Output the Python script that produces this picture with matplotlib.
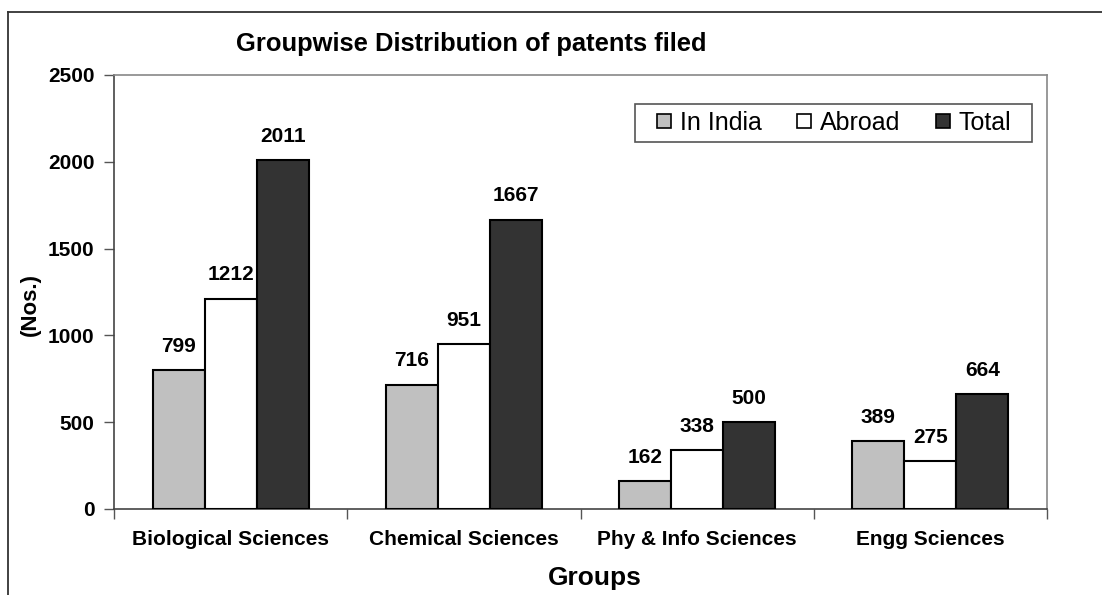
import numpy as np
import matplotlib.pyplot as plt
from matplotlib.lines import Line2D
from matplotlib.patches import Rectangle

# ---- data ----
groups = ["Biological Sciences", "Chemical Sciences", "Phy & Info Sciences", "Engg Sciences"]
in_india = [799, 716, 162, 389]
abroad = [1212, 951, 338, 275]
total = [2011, 1667, 500, 664]
series_names = ["In India", "Abroad", "Total"]
yticks = [0, 500, 1000, 1500, 2000, 2500]

plt.rcParams['font.family'] = ['Liberation Sans', 'DejaVu Sans']

W, H = 1102, 595
fig = plt.figure(figsize=(W / 100, H / 100), dpi=100)
ax = fig.add_axes([114 / W, 1 - 509 / H, (1047 - 114) / W, (509 - 75) / H])

x = np.arange(len(groups))
bw = 0.223
colors = ["#c0c0c0", "#ffffff", "#333333"]
for i, (vals, c) in enumerate(zip([in_india, abroad, total], colors)):
    xs = x + (i - 1) * bw
    ax.bar(xs, vals, bw, color=c, edgecolor="black", linewidth=1.5, zorder=3)
    for xi, v in zip(xs, vals):
        ax.text(xi, v + 105, str(v), ha="center", va="baseline",
                fontsize=15, fontweight="bold")

ax.set_xlim(-0.5, len(groups) - 0.5)
ax.set_ylim(0, 2500)
ax.set_yticks(yticks)
ax.set_yticklabels([str(t) for t in yticks], fontsize=15, fontweight="bold")
ax.tick_params(axis="y", length=7, width=1, color="#555555", pad=7)

ax.set_xticks(x)
ax.set_xticklabels(groups, fontsize=15, fontweight="bold")
ax.tick_params(axis="x", length=0, pad=15)
ax.set_xticks(np.arange(len(groups) + 1) - 0.5, minor=True)
ax.tick_params(axis="x", which="minor", length=7, width=1, color="#555555")

for s in ["left", "bottom"]:
    ax.spines[s].set_color("#444444")
    ax.spines[s].set_linewidth(1.2)
for s in ["top", "right"]:
    ax.spines[s].set_color("#888888")
    ax.spines[s].set_linewidth(1.2)

# axis titles and chart title
fig.text(595 / W, 1 - 585 / H, "Groups", ha="center", va="baseline",
         fontsize=19, fontweight="bold")
fig.text(30 / W, 1 - 305 / H, "(Nos.)", ha="center", va="center", rotation=90,
         fontsize=16, fontweight="bold")
fig.text(471 / W, 1 - 51 / H, "Groupwise Distribution of patents filed",
         ha="center", va="baseline", fontsize=18.4, fontweight="bold")

# legend: entries without frame, box drawn separately
handles = [Line2D([], [], marker="s", linestyle="none", markersize=10.5,
                  markerfacecolor=c, markeredgecolor="black", markeredgewidth=1.2)
           for c in colors]
leg = ax.legend(handles, series_names, ncol=3, loc="center left",
                bbox_to_anchor=(657 / W, 1 - 123 / H), bbox_transform=fig.transFigure,
                fontsize=18, frameon=False, handletextpad=0.32,
                columnspacing=1.4, borderpad=0, handlelength=0.6, borderaxespad=0)
leg.set_zorder(10)
ax.add_patch(Rectangle((635 / W, 1 - 142 / H), (1032 - 635) / W, 38 / H,
                       transform=fig.transFigure, facecolor="white",
                       edgecolor="#555555", linewidth=1.2, zorder=6, clip_on=False))

# outer chart border (left and top visible)
fig.add_artist(Line2D([8 / W, 8 / W], [0, 1 - 12 / H], transform=fig.transFigure,
                      color="#333333", linewidth=1.3))
fig.add_artist(Line2D([8 / W, 1], [1 - 12 / H, 1 - 12 / H], transform=fig.transFigure,
                      color="#333333", linewidth=1.3))

fig.savefig("out.png", dpi=100)
